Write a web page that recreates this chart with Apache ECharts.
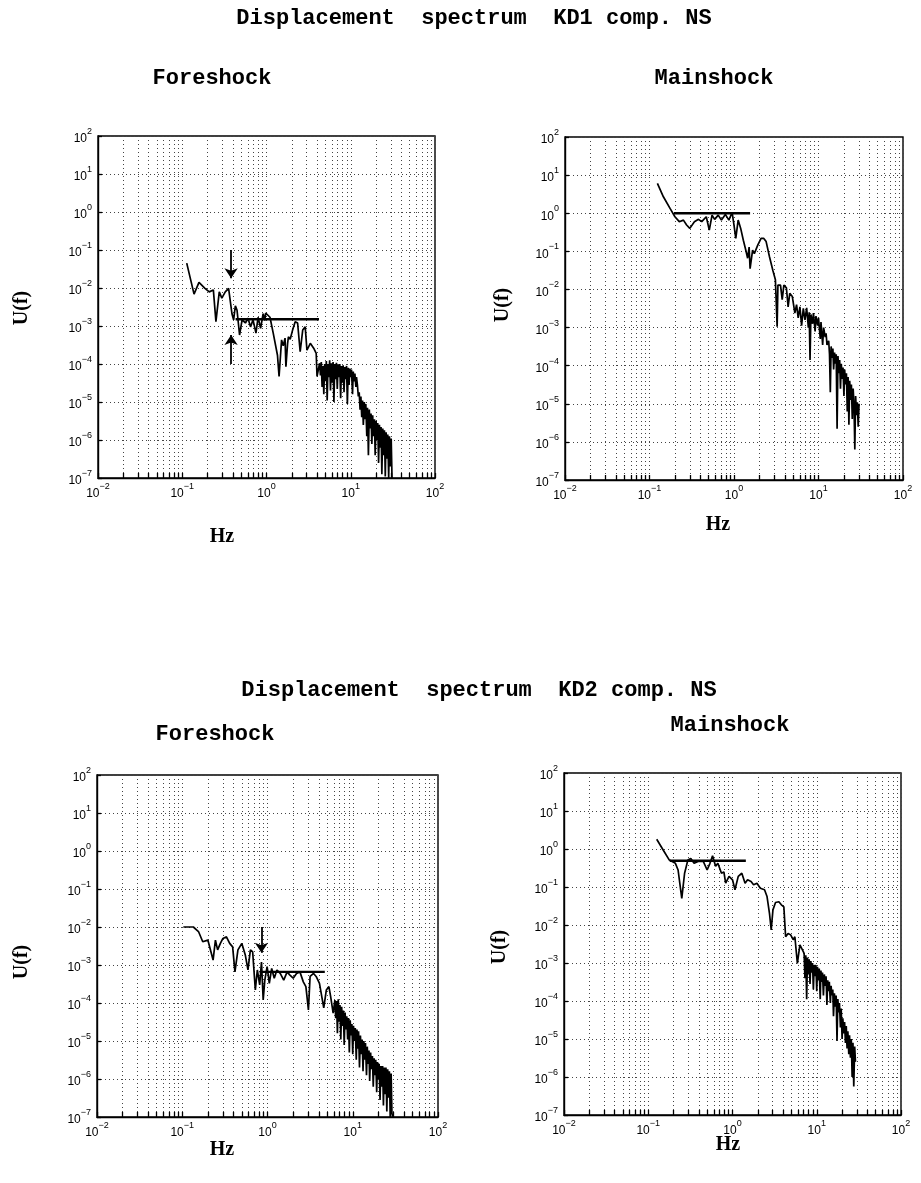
<!DOCTYPE html>
<html>
<head>
<meta charset="utf-8">
<script src="https://cdn.jsdelivr.net/npm/echarts@6/dist/echarts.min.js"></script>
<style>
  html, body { margin: 0; padding: 0; background: #fff; }
  #chart { width: 921px; height: 1183px; }
</style>
</head>
<body>
<div id="chart"></div>
<script>
// axis ticks: decades plus 2..9 inside each decade (Hz)
const xTicks = [0.01, 0.02, 0.03, 0.04, 0.05, 0.06, 0.07, 0.08, 0.09,
  0.1, 0.2, 0.3, 0.4, 0.5, 0.6, 0.7, 0.8, 0.9,
  1, 2, 3, 4, 5, 6, 7, 8, 9,
  10, 20, 30, 40, 50, 60, 70, 80, 90, 100]
const xDecades = [0.01, 0.1, 1, 10, 100]
const xDecadeExp = ['-2', '-1', '0', '1', '2']
const yDecades = [1e-7, 1e-6, 1e-5, 1e-4, 1e-3, 1e-2, 1e-1, 1, 10, 100]
const yDecadeExp = ['-7', '-6', '-5', '-4', '-3', '-2', '-1', '0', '1', '2']

// KD1 foreshock spectrum [Hz, U(f)]
const kd1Fore = [
  [0.113, 4.5e-2], [0.138, 6.9e-3], [0.158, 1.4e-2], [0.186, 9.8e-3], [0.209, 7.9e-3],
  [0.234, 8.9e-3], [0.251, 1.3e-3], [0.275, 7.9e-3], [0.295, 5.4e-3], [0.324, 7.9e-3],
  [0.355, 9.8e-3], [0.372, 8.9e-3], [0.389, 2.1e-3], [0.407, 1.45e-3], [0.427, 3.4e-3],
  [0.447, 2.6e-3], [0.479, 5.8e-4], [0.513, 1.45e-3], [0.562, 1.2e-3], [0.603, 1.6e-3],
  [0.646, 9.5e-4], [0.692, 1.45e-3], [0.75, 6.5e-4], [0.794, 1.7e-3], [0.851, 8.7e-4],
  [0.912, 2.1e-3], [0.955, 1.4e-3], [0.977, 2.2e-3], [1.10, 1.7e-3], [1.20, 6.6e-4],
  [1.35, 1.7e-4], [1.41, 4.7e-5], [1.51, 4.3e-4], [1.58, 3.0e-4], [1.66, 4.8e-4],
  [1.70, 8.5e-5], [1.78, 3.5e-4], [1.82, 5.2e-4], [1.91, 4.5e-4], [2.04, 7.8e-4],
  [2.19, 1.3e-3], [2.34, 1.2e-3], [2.51, 2.1e-4], [2.69, 7.8e-4], [2.88, 9.5e-4],
  [3.02, 2.3e-4], [3.31, 3.5e-4], [3.63, 2.6e-4], [3.89, 1.9e-4], [3.98, 4.7e-5],
  [4.27, 1.05e-4], [4.37, 5.0e-5], [4.47, 1.12e-4], [4.57, 2.5e-5], [4.68, 8.9e-5],
  [4.79, 1.6e-5], [4.90, 1.0e-4], [5.01, 3.5e-5], [5.13, 1.2e-4], [5.25, 1.1e-5],
  [5.37, 1.0e-4], [5.50, 4.5e-5], [5.62, 1.26e-4], [5.75, 2.0e-5], [5.89, 1.05e-4],
  [6.03, 3.2e-5], [6.17, 1.12e-4], [6.31, 1.0e-5], [6.46, 1.0e-4], [6.61, 4.0e-5],
  [6.76, 1.07e-4], [6.92, 2.2e-5], [7.08, 9.5e-5], [7.24, 4.5e-5], [7.41, 1.0e-4],
  [7.59, 1.26e-5], [7.76, 8.9e-5], [7.94, 3.2e-5], [8.13, 9.3e-5], [8.32, 1.8e-5],
  [8.51, 8.3e-5], [8.71, 4.0e-5], [8.91, 8.9e-5], [9.12, 8.9e-6], [9.33, 7.9e-5],
  [9.55, 2.8e-5], [9.77, 7.6e-5], [10.0, 4.5e-5], [10.2, 7.1e-5], [10.5, 1.6e-5],
  [10.7, 6.3e-5], [11.0, 3.5e-5], [11.2, 5.6e-5], [11.5, 2.5e-5], [11.7, 4.5e-5],
  [12.0, 2.8e-5], [12.3, 1.4e-5], [12.6, 1.8e-5], [12.9, 6.3e-6], [13.2, 1.4e-5],
  [13.5, 4.0e-6], [13.8, 1.1e-5], [14.1, 2.5e-6], [14.5, 1.0e-5], [14.8, 3.5e-6],
  [15.1, 8.9e-6], [15.5, 1.26e-6], [15.8, 7.1e-6], [16.2, 4.0e-7], [16.6, 6.3e-6],
  [17.0, 2.0e-6], [17.4, 5.0e-6], [17.8, 7.9e-7], [18.2, 4.5e-6], [18.6, 1.26e-6],
  [19.1, 3.5e-6], [19.5, 4.0e-7], [20.0, 3.2e-6], [20.4, 1.0e-6], [20.9, 2.8e-6],
  [21.4, 2.5e-7], [21.9, 2.5e-6], [22.4, 6.3e-7], [22.9, 2.2e-6], [23.4, 1.26e-7],
  [24.0, 2.0e-6], [24.5, 4.0e-7], [25.1, 1.8e-6], [25.7, 1.1e-7], [26.3, 1.6e-6],
  [26.9, 3.2e-7], [27.5, 1.4e-6], [28.2, 1.0e-7], [28.8, 1.26e-6], [29.5, 2.0e-7],
  [30.2, 1.1e-6], [30.9, 1.0e-7]
]
const kd1ForePlateau = [[0.43, 1.5e-3], [4.2, 1.5e-3]]
const kd1ForeArrows = [
  [[0.38, 1.0e-1], [0.38, 1.8e-2]],
  [[0.38, 1.0e-4], [0.38, 5.8e-4]]
]

// KD1 mainshock spectrum
const kd1Main = [
  [0.124, 6.1], [0.146, 2.7], [0.175, 1.34], [0.20, 0.81], [0.225, 0.60],
  [0.252, 0.66], [0.275, 0.49], [0.30, 0.40], [0.34, 0.60], [0.38, 0.69],
  [0.415, 0.60], [0.47, 0.81], [0.51, 0.36], [0.55, 0.89], [0.59, 0.69],
  [0.65, 0.89], [0.71, 0.66], [0.79, 0.93], [0.87, 0.66], [0.95, 1.05],
  [1.0, 0.49], [1.05, 0.22], [1.12, 0.66], [1.2, 0.40], [1.29, 0.195],
  [1.38, 0.107], [1.45, 0.066], [1.51, 0.13], [1.55, 0.035], [1.66, 0.107],
  [1.74, 0.087], [1.91, 0.145], [2.09, 0.22], [2.24, 0.22], [2.4, 0.18],
  [2.63, 0.072], [2.88, 0.032], [3.09, 0.018], [3.24, 1.05e-3], [3.31, 0.013],
  [3.55, 0.013], [3.72, 5.4e-3], [3.89, 0.013], [4.17, 0.011], [4.37, 3.5e-3],
  [4.57, 7.9e-3], [4.9, 6.5e-3], [5.25, 2.4e-3], [5.5, 4.0e-3], [5.75, 1.8e-3],
  [6.03, 3.5e-3], [6.31, 1.12e-3], [6.61, 3.2e-3], [6.92, 1.6e-3], [7.24, 3.3e-3],
  [7.59, 1.0e-3], [7.76, 2.5e-3], [7.94, 1.4e-4], [8.13, 2.2e-3], [8.51, 1.26e-3],
  [8.71, 2.4e-3], [9.12, 7.9e-4], [9.33, 2.0e-3], [9.77, 1.12e-3], [10.0, 1.8e-3],
  [10.5, 5.0e-4], [10.7, 1.4e-3], [11.2, 3.5e-4], [11.5, 1.0e-3], [12.0, 5.6e-4],
  [12.3, 7.1e-4], [12.6, 3.5e-4], [13.2, 4.5e-4], [13.5, 2.0e-4], [13.8, 2.0e-5],
  [14.1, 3.2e-4], [14.5, 1.6e-4], [14.8, 2.8e-4], [15.1, 7.9e-5], [15.5, 2.2e-4],
  [15.8, 1.12e-4], [16.2, 2.0e-4], [16.6, 2.2e-6], [17.0, 1.8e-4], [17.4, 6.3e-5],
  [17.8, 1.4e-4], [18.2, 2.5e-5], [18.6, 1.12e-4], [19.1, 4.5e-5], [19.5, 8.9e-5],
  [20.0, 1.6e-5], [20.4, 7.9e-5], [20.9, 3.2e-5], [21.4, 6.3e-5], [21.9, 6.3e-6],
  [22.4, 5.0e-5], [22.9, 2.8e-6], [23.4, 4.0e-5], [24.0, 1.26e-5], [24.5, 3.2e-5],
  [25.1, 4.0e-6], [25.7, 2.5e-5], [26.3, 1.0e-5], [26.9, 6.3e-7], [27.5, 1.6e-5],
  [28.2, 5.0e-6], [28.8, 1.1e-5], [29.5, 2.5e-6], [30.2, 1.0e-5]
]
const kd1MainPlateau = [[0.195, 1.0], [1.55, 1.0]]

// KD2 foreshock spectrum
const kd2Fore = [
  [0.103, 1.0e-2], [0.135, 1.0e-2], [0.155, 7.6e-3], [0.174, 4.1e-3], [0.20, 4.5e-3],
  [0.23, 1.35e-3], [0.245, 4.5e-3], [0.26, 2.5e-3], [0.28, 3.7e-3], [0.30, 5.0e-3],
  [0.33, 5.5e-3], [0.36, 3.7e-3], [0.39, 3.0e-3], [0.415, 6.6e-4], [0.45, 2.5e-3],
  [0.50, 3.7e-3], [0.55, 1.8e-3], [0.59, 7.4e-4], [0.63, 2.5e-3], [0.67, 2.2e-3],
  [0.72, 2.2e-4], [0.76, 7.4e-4], [0.81, 3.0e-4], [0.85, 1.2e-3], [0.89, 1.2e-4],
  [0.93, 4.0e-4], [0.99, 9.1e-4], [1.05, 3.3e-4], [1.12, 8.1e-4], [1.2, 4.5e-4],
  [1.29, 7.4e-4], [1.41, 6.0e-4], [1.55, 4.0e-4], [1.70, 6.6e-4], [1.82, 5.5e-4],
  [2.0, 4.5e-4], [2.19, 6.0e-4], [2.4, 6.6e-4], [2.63, 3.6e-4], [2.82, 2.7e-4],
  [3.02, 6.6e-5], [3.16, 5.0e-4], [3.47, 6.0e-4], [3.72, 5.0e-4], [4.07, 3.3e-4],
  [4.57, 7.4e-5], [4.9, 2.2e-4], [5.25, 2.7e-4], [5.5, 1.5e-4], [5.89, 5.4e-5],
  [6.17, 1.2e-4], [6.31, 4.0e-5], [6.46, 1.12e-4], [6.61, 1.6e-5], [6.76, 1.26e-4],
  [6.92, 3.2e-5], [7.08, 8.9e-5], [7.24, 1.1e-5], [7.41, 7.9e-5], [7.59, 2.5e-5],
  [7.76, 6.3e-5], [7.94, 7.9e-6], [8.13, 5.6e-5], [8.32, 2.0e-5], [8.51, 4.5e-5],
  [8.71, 1.1e-5], [8.91, 4.0e-5], [9.12, 5.0e-6], [9.33, 3.5e-5], [9.55, 1.4e-5],
  [9.77, 2.8e-5], [10.0, 4.5e-6], [10.2, 2.5e-5], [10.5, 1.0e-5], [10.7, 2.2e-5],
  [11.0, 3.2e-6], [11.2, 2.0e-5], [11.5, 6.3e-6], [11.7, 1.8e-5], [12.0, 2.0e-6],
  [12.3, 1.4e-5], [12.6, 4.5e-6], [12.9, 1.1e-5], [13.2, 1.6e-6], [13.5, 1.0e-5],
  [13.8, 3.2e-6], [14.1, 8.9e-6], [14.5, 1.26e-6], [14.8, 7.1e-6], [15.1, 2.5e-6],
  [15.5, 5.6e-6], [15.8, 8.9e-7], [16.2, 5.0e-6], [16.6, 1.8e-6], [17.0, 4.0e-6],
  [17.4, 6.3e-7], [17.8, 3.5e-6], [18.2, 1.26e-6], [18.6, 3.2e-6], [19.1, 4.5e-7],
  [19.5, 2.8e-6], [20.0, 1.0e-6], [20.4, 2.5e-6], [20.9, 2.8e-7], [21.4, 2.2e-6],
  [21.9, 6.3e-7], [22.4, 2.2e-6], [22.9, 2.0e-7], [23.4, 2.0e-6], [24.0, 4.0e-7],
  [24.5, 2.0e-6], [25.1, 1.4e-7], [25.7, 1.8e-6], [26.3, 3.2e-7], [26.9, 1.6e-6],
  [27.5, 1.0e-7], [28.2, 1.4e-6], [28.8, 1.26e-7], [29.5, 1.0e-7]
]
const kd2ForePlateau = [[0.81, 6.6e-4], [4.7, 6.6e-4]]
const kd2ForeArrows = [
  [[0.85, 1.0e-2], [0.85, 2.1e-3]]
]

// KD2 mainshock spectrum
const kd2Main = [
  [0.126, 1.8], [0.151, 0.93], [0.178, 0.51], [0.21, 0.42], [0.226, 0.28],
  [0.25, 0.05], [0.27, 0.23], [0.295, 0.51], [0.32, 0.56], [0.35, 0.42],
  [0.39, 0.47], [0.45, 0.47], [0.50, 0.28], [0.54, 0.42], [0.58, 0.66],
  [0.63, 0.35], [0.67, 0.42], [0.74, 0.23], [0.79, 0.25], [0.83, 0.126],
  [0.91, 0.19], [1.0, 0.155], [1.07, 0.085], [1.17, 0.19], [1.29, 0.23],
  [1.41, 0.126], [1.51, 0.155], [1.66, 0.14], [1.78, 0.115], [1.95, 0.126],
  [2.14, 0.093], [2.4, 0.085], [2.57, 0.056], [2.75, 0.020], [2.88, 7.4e-3],
  [3.02, 0.025], [3.24, 0.039], [3.55, 0.041], [3.80, 0.034], [4.07, 0.030],
  [4.27, 4.9e-3], [4.57, 6.0e-3], [4.9, 5.5e-3], [5.25, 4.1e-3], [5.5, 4.9e-3],
  [5.89, 9.8e-4], [6.31, 3.0e-3], [6.76, 2.2e-3], [7.08, 1.8e-3], [7.24, 4.0e-4],
  [7.41, 1.6e-3], [7.59, 1.12e-4], [7.76, 1.4e-3], [7.94, 5.0e-4], [8.13, 1.26e-3],
  [8.32, 2.8e-4], [8.51, 1.12e-3], [8.71, 5.6e-4], [8.91, 1.0e-3], [9.12, 2.0e-4],
  [9.33, 8.9e-4], [9.55, 4.5e-4], [9.77, 8.9e-4], [10.0, 1.8e-4], [10.2, 7.9e-4],
  [10.5, 3.5e-4], [10.7, 7.1e-4], [11.0, 1.12e-4], [11.2, 6.3e-4], [11.5, 3.2e-4],
  [11.7, 5.6e-4], [12.0, 1.4e-4], [12.3, 5.0e-4], [12.6, 2.5e-4], [12.9, 4.5e-4],
  [13.2, 7.9e-5], [13.5, 3.5e-4], [13.8, 1.8e-4], [14.1, 3.2e-4], [14.5, 8.9e-5],
  [14.8, 2.5e-4], [15.1, 1.4e-4], [15.5, 2.0e-4], [15.8, 4.0e-5], [16.2, 1.6e-4],
  [16.6, 7.1e-5], [17.0, 1.4e-4], [17.4, 8.9e-6], [17.8, 1.12e-4], [18.2, 5.0e-5],
  [18.6, 8.9e-5], [19.1, 2.0e-5], [19.5, 6.3e-5], [20.0, 1.0e-5], [20.4, 3.5e-5],
  [20.9, 1.4e-5], [21.4, 2.8e-5], [21.9, 7.9e-6], [22.4, 2.2e-5], [22.9, 5.6e-6],
  [23.4, 1.6e-5], [24.0, 4.0e-6], [24.5, 1.26e-5], [25.1, 3.2e-6], [25.7, 1.0e-5],
  [26.3, 1.0e-6], [26.9, 7.9e-6], [27.5, 5.6e-7], [28.2, 6.3e-6], [28.8, 2.5e-6]
]
const kd2MainPlateau = [[0.18, 0.49], [1.44, 0.49]]

const panels = [
  { data: kd1Fore, plateau: kd1ForePlateau, arrows: kd1ForeArrows },
  { data: kd1Main, plateau: kd1MainPlateau, arrows: [] },
  { data: kd2Fore, plateau: kd2ForePlateau, arrows: kd2ForeArrows },
  { data: kd2Main, plateau: kd2MainPlateau, arrows: [] }
]

const grids = [
  { left: 98, top: 136, width: 337, height: 342 },
  { left: 565, top: 137, width: 338, height: 343 },
  { left: 97, top: 775, width: 341, height: 342 },
  { left: 564, top: 773, width: 337, height: 342 }
]

const serifBold = 'bold 20px "Liberation Serif"'
const mono = 'bold 22px "Liberation Mono"'

// "10" with the exponent raised
function powerLabel(values, exps, v) {
  for (let k = 0; k < values.length; k++) {
    if (Math.abs(values[k] - v) / values[k] < 1e-6) return '{b|10}{e|' + exps[k].replace('-', '−') + '}'
  }
  return ''
}
const powerRich = {
  b: { fontSize: 12, lineHeight: 18, verticalAlign: 'bottom', fontFamily: 'Liberation Sans', color: '#000' },
  e: { fontSize: 9, lineHeight: 10, verticalAlign: 'top', fontFamily: 'Liberation Sans', color: '#000' }
}

// free text: titles, sub titles, axis names
function label(text, x, y, font, rotate) {
  return {
    type: 'text', x, y, rotation: rotate ? Math.PI / 2 : 0,
    style: { text, font, fill: '#000', align: 'center', verticalAlign: 'middle', textAlign: 'center', textVerticalAlign: 'middle' }
  }
}

const gridLine = { show: true, lineStyle: { color: '#444', type: [1, 3], width: 1 } }

const chart = echarts.init(document.getElementById('chart'), null, { renderer: 'canvas' })

const option = {
  animation: false,
  backgroundColor: '#fff',
  grid: grids.map(g => ({ ...g, show: true, borderColor: '#000', borderWidth: 1.4 })),
  xAxis: grids.map((g, i) => ({
    type: 'log',
    logBase: 10,
    gridIndex: i,
    min: 0.01,
    max: 100,
    axisLine: { show: true, onZero: false, lineStyle: { color: '#000', width: 1.4 } },
    axisTick: { show: true, inside: true, length: 5, customValues: xTicks, lineStyle: { color: '#000', width: 1.3 } },
    axisLabel: {
      customValues: xDecades,
      formatter: v => powerLabel(xDecades, xDecadeExp, v),
      rich: powerRich,
      margin: 4
    },
    splitLine: gridLine
  })),
  yAxis: grids.map((g, i) => ({
    type: 'log',
    logBase: 10,
    gridIndex: i,
    min: 1e-7,
    max: 100,
    axisLine: { show: true, onZero: false, lineStyle: { color: '#000', width: 1.4 } },
    axisTick: { show: true, inside: true, length: 4, customValues: yDecades, lineStyle: { color: '#000', width: 1.3 } },
    axisLabel: {
      customValues: yDecades,
      formatter: v => powerLabel(yDecades, yDecadeExp, v),
      rich: powerRich,
      margin: 6
    },
    splitLine: gridLine
  })),
  series: panels.flatMap((p, i) => [
    {
      type: 'line',
      xAxisIndex: i,
      yAxisIndex: i,
      data: p.data,
      symbol: 'none',
      silent: true,
      lineStyle: { color: '#000', width: 1.7 }
    },
    {
      type: 'line',
      xAxisIndex: i,
      yAxisIndex: i,
      data: p.plateau,
      symbol: 'none',
      silent: true,
      lineStyle: { color: '#000', width: 2.4 },
      markLine: {
        silent: true,
        symbol: ['none', 'arrow'],
        symbolSize: 10,
        label: { show: false },
        lineStyle: { color: '#000', type: 'solid', width: 1.8 },
        data: p.arrows.map(a => [{ coord: a[0] }, { coord: a[1] }])
      }
    }
  ]),
  graphic: [
    label('Displacement  spectrum  KD1 comp. NS', 474, 18, mono),
    label('Foreshock', 212, 78, mono),
    label('Mainshock', 714, 78, mono),
    label('Displacement  spectrum  KD2 comp. NS', 479, 690, mono),
    label('Foreshock', 215, 734, mono),
    label('Mainshock', 730, 725, mono),
    label('Hz', 222, 537, serifBold),
    label('Hz', 718, 525, serifBold),
    label('Hz', 222, 1150, serifBold),
    label('Hz', 728, 1145, serifBold),
    label('U(f)', 22, 308, serifBold, true),
    label('U(f)', 503, 305, serifBold, true),
    label('U(f)', 22, 962, serifBold, true),
    label('U(f)', 500, 947, serifBold, true)
  ]
}

chart.setOption(option)
</script>
</body>
</html>
